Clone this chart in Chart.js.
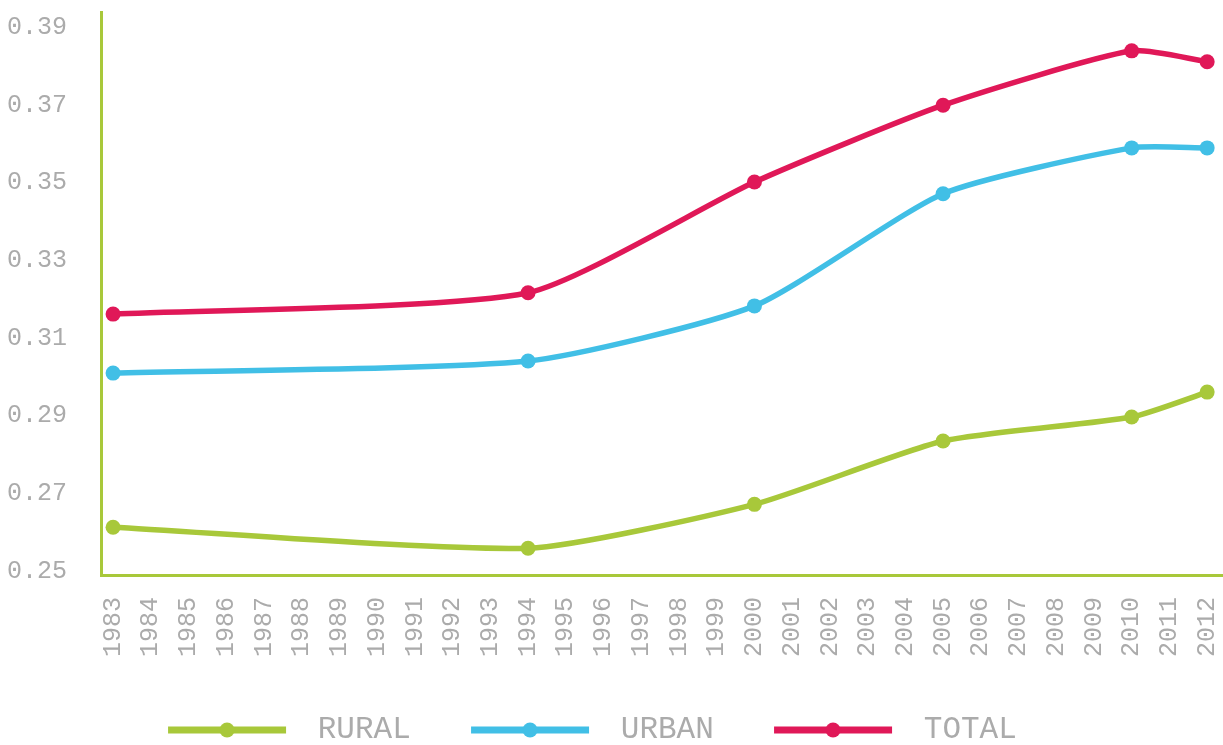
<!DOCTYPE html>
<html>
<head>
<meta charset="utf-8">
<script src="https://cdn.jsdelivr.net/npm/chart.js@4.4.1/dist/chart.umd.min.js"></script>
<style>
html, body { margin: 0; padding: 0; background: #fff; overflow: hidden; }
</style>
</head>
<body>
<canvas id="graphique" width="1223" height="745"></canvas>
<script>
// Années affichées sur l'axe horizontal
const annees = [1983, 1984, 1985, 1986, 1987, 1988, 1989, 1990, 1991, 1992,
    1993, 1994, 1995, 1996, 1997, 1998, 1999, 2000, 2001, 2002,
    2003, 2004, 2005, 2006, 2007, 2008, 2009, 2010, 2011, 2012];
// Années où il y a une mesure
const anneesMesures = [1983, 1994, 2000, 2005, 2010, 2012];
const rural = [0.2613, 0.2559, 0.2672, 0.2835, 0.2897, 0.2961];
const urbain = [0.3010, 0.3041, 0.3183, 0.3472, 0.3590, 0.3590];
const total = [0.3162, 0.3217, 0.3502, 0.3700, 0.3840, 0.3812];
const graduationsY = [0.25, 0.27, 0.29, 0.31, 0.33, 0.35, 0.37, 0.39];

const VERT = '#a8c83a';
const BLEU = '#41bfe6';
const ROUGE = '#e01858';
const GRIS = '#ababab';
const POLICE = 'Liberation Mono';

const canvas = document.getElementById("graphique");

function points(valeurs) {
    return anneesMesures.map((annee, i) => ({ x: annee, y: valeurs[i] }));
}

function symboleLegende(couleur) {
    // trait + point pour la légende (l'image est centrée sur la case de la légende)
    const c = document.createElement('canvas');
    c.width = 180;
    c.height = 20;
    const g = c.getContext('2d');
    g.strokeStyle = couleur;
    g.lineWidth = 7;
    g.beginPath();
    g.moveTo(41, 10);
    g.lineTo(159, 10);
    g.stroke();
    g.fillStyle = couleur;
    g.beginPath();
    g.arc(100, 10, 7.5, 0, Math.PI * 2);
    g.fill();
    return c;
}

function serie(label, valeurs, couleur) {
    return {
        label: label,
        data: points(valeurs),
        borderColor: couleur,
        backgroundColor: couleur,
        pointBackgroundColor: couleur,
        borderWidth: 5.5,
        pointRadius: 7.5,
        pointBorderWidth: 0,
        tension: 0.2,
        clip: false,
    };
}

function sansMarges(s) {
    s.paddingTop = 0;
    s.paddingBottom = 0;
    s.paddingLeft = 0;
    s.paddingRight = 0;
}

const ticksCommuns = {
    color: GRIS,
    font: { family: POLICE, size: 25 },
};

new Chart(canvas.getContext('2d'), {
    type: 'line',
    data: {
        datasets: [
            serie('RURAL', rural, VERT),
            serie('URBAN', urbain, BLEU),
            serie('TOTAL', total, ROUGE),
        ],
    },
    options: {
        responsive: false,
        animation: false,
        devicePixelRatio: 1,
        layout: {
            autoPadding: false,
            padding: { top: 12, right: 0, bottom: -10.5, left: 0 },
        },
        plugins: {
            tooltip: { enabled: false },
            legend: {
                position: 'bottom',
                labels: {
                    usePointStyle: true,
                    pointStyleWidth: 170.5,
                    padding: 24,
                    color: GRIS,
                    font: { family: POLICE, size: 31 },
                    generateLabels: (chart) => {
                        const items = Chart.defaults.plugins.legend.labels.generateLabels(chart);
                        const dernier = items.length - 1;
                        items.forEach((item, i) => {
                            item.pointStyle = symboleLegende(chart.data.datasets[item.datasetIndex].borderColor);
                            // espaces en fin de dernier libellé : décale l'ensemble vers la gauche
                            if (i === dernier) item.text = item.text + '    ';
                        });
                        return items;
                    },
                },
            },
        },
        scales: {
            x: {
                type: 'linear',
                min: 1982.68,
                max: 2012.42,
                afterBuildTicks: (s) => { s.ticks = annees.map(v => ({ value: v })); },
                afterFit: (s) => { s.height = 115.5; sansMarges(s); },
                grid: { display: false, drawTicks: false },
                border: { color: VERT, width: 3 },
                ticks: {
                    ...ticksCommuns,
                    autoSkip: false,
                    minRotation: 90,
                    maxRotation: 90,
                    padding: 22,
                    callback: (v) => String(v),
                },
            },
            y: {
                min: 0.249,
                max: 0.394,
                afterBuildTicks: (s) => { s.ticks = graduationsY.map(v => ({ value: v })); },
                afterFit: (s) => { s.width = 101; sansMarges(s); },
                grid: { display: false, drawTicks: false },
                border: { color: VERT, width: 3 },
                ticks: {
                    ...ticksCommuns,
                    padding: 34,
                    callback: (v) => v.toFixed(2),
                },
            },
        },
    },
});
</script>
</body>
</html>
